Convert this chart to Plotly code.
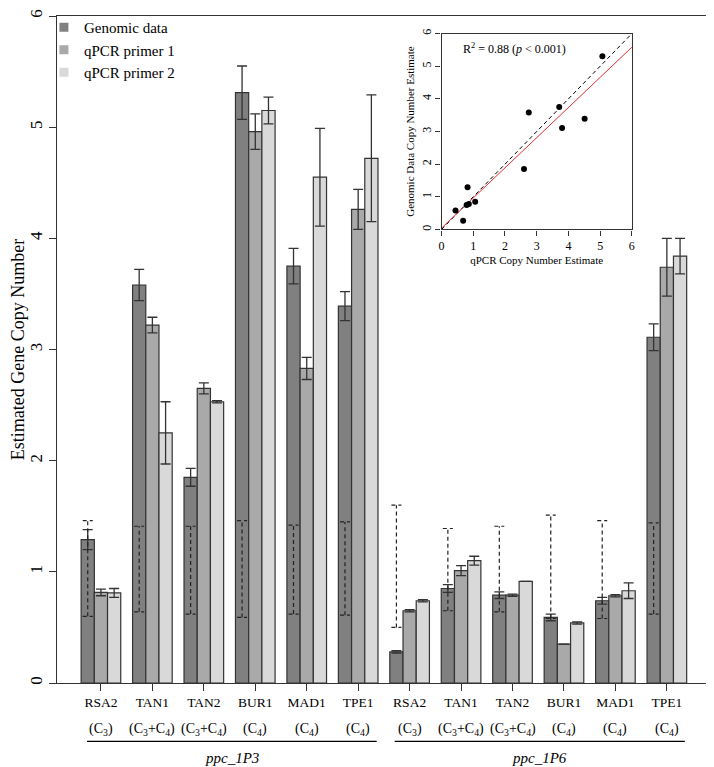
import plotly.graph_objects as go

# bar data: 6 accessions x 2 ppc loci
genes = ["RSA2", "TAN1", "TAN2", "BUR1", "MAD1", "TPE1"] * 2
ptype = ["(C<sub>3</sub>)", "(C<sub>3</sub>+C<sub>4</sub>)", "(C<sub>3</sub>+C<sub>4</sub>)",
         "(C<sub>4</sub>)", "(C<sub>4</sub>)", "(C<sub>4</sub>)"] * 2
loci = ["ppc_1P3", "ppc_1P6"]

genomic = [1.29, 3.58, 1.85, 5.31, 3.75, 3.39, 0.28, 0.85, 0.79, 0.59, 0.74, 3.11]
genomic_err = [0.09, 0.14, 0.08, 0.24, 0.16, 0.13, 0.01, 0.035, 0.03, 0.03, 0.03, 0.12]
primer1 = [0.815, 3.22, 2.65, 4.96, 2.83, 4.26, 0.65, 1.01, 0.79, 0.35, 0.785, 3.74]
primer1_err = [0.03, 0.07, 0.05, 0.16, 0.10, 0.18, 0.01, 0.045, 0.01, 0.0, 0.01, 0.26]
primer2 = [0.81, 2.25, 2.53, 5.15, 4.55, 4.72, 0.74, 1.10, 0.915, 0.54, 0.83, 3.84]
primer2_err = [0.04, 0.28, 0.01, 0.12, 0.44, 0.57, 0.01, 0.04, 0.0, 0.01, 0.07, 0.16]

# dashed interval drawn on the genomic bars
interval_lo = [0.60, 0.64, 0.62, 0.59, 0.62, 0.61, 0.50, 0.65, 0.64, 0.58, 0.58, 0.62]
interval_hi = [1.46, 1.41, 1.41, 1.46, 1.42, 1.45, 1.60, 1.39, 1.41, 1.51, 1.46, 1.44]

# inset scatter
qpcr_est = [0.82, 2.75, 2.60, 5.07, 3.71, 4.51, 0.68, 1.06, 0.86, 0.44, 0.79, 3.80]
genomic_est = [1.29, 3.58, 1.85, 5.31, 3.75, 3.39, 0.27, 0.85, 0.78, 0.58, 0.75, 3.11]
fit_intercept = 0.04
fit_slope = 0.924

FONT = "Liberation Serif"
INK = "#333333"
colors = ["#808080", "#a9a9a9", "#d9d9d9"]
names = ["Genomic data", "qPCR primer 1", "qPCR primer 2"]

x = list(range(len(genes)))
bargap = 0.23
bw = (1 - bargap) / 3

fig = go.Figure()
for vals, errs, col, nm in zip([genomic, primer1, primer2],
                               [genomic_err, primer1_err, primer2_err], colors, names):
    fig.add_trace(go.Bar(
        x=x, y=vals, name=nm, showlegend=False,
        marker=dict(color=col, line=dict(color=INK, width=1.2)),
        error_y=dict(type="data", array=errs, visible=True, color=INK,
                     thickness=1.3, width=5),
    ))
    # small square legend keys like the original
    fig.add_trace(go.Scatter(x=[None], y=[None], mode="markers", name=nm,
                             marker=dict(symbol="square", size=9, color=col)))

# dashed brackets (vertical + caps) centred on genomic bars
cap = 0.097
dx, dy = [], []
for i, lo, hi in zip(x, interval_lo, interval_hi):
    c = i - bw
    dx += [c, c, None, c - cap, c + cap, None, c - cap, c + cap, None]
    dy += [lo, hi, None, hi, hi, None, lo, lo, None]
fig.add_trace(go.Scatter(x=dx, y=dy, mode="lines", showlegend=False, hoverinfo="skip",
                         line=dict(color="#222222", width=1.2, dash="4px,3px")))

# inset
fig.add_trace(go.Scatter(x=[0, 6], y=[0, 6], mode="lines", xaxis="x2", yaxis="y2",
                         showlegend=False, line=dict(color="black", width=1, dash="4px,3px")))
fig.add_trace(go.Scatter(x=[0, 6], y=[fit_intercept, fit_intercept + 6 * fit_slope],
                         mode="lines", xaxis="x2", yaxis="y2", showlegend=False,
                         line=dict(color="#e03030", width=1)))
fig.add_trace(go.Scatter(x=qpcr_est, y=genomic_est, mode="markers", xaxis="x2", yaxis="y2",
                         showlegend=False, marker=dict(color="black", size=6)))

# x labels: photosynthetic type row, locus lines and names
for i, t in zip(x, ptype):
    fig.add_annotation(x=i, y=-0.0701, xref="x", yref="paper", yanchor="middle", text=t,
                       showarrow=False, font=dict(family=FONT, size=14, color="black"))
spans = [(-0.27, 5.36), (5.71, 11.35)]
for (a, b), loc in zip(spans, loci):
    fig.add_shape(type="line", xref="x", yref="paper", x0=a, x1=b, y0=-0.0875, y1=-0.0875,
                  line=dict(color="black", width=1.2))
    fig.add_annotation(x=(a + b) / 2, y=-0.112, xref="x", yref="paper", yanchor="middle",
                       text="<i>%s</i>" % loc, showarrow=False,
                       font=dict(family=FONT, size=15, color="black"))

fig.add_annotation(x=0.6, y=5.55, xref="x2", yref="y2", xanchor="left", yanchor="middle",
                   text="R<sup>2</sup> = 0.88 (<i>p</i> &lt; 0.001)", showarrow=False,
                   font=dict(family=FONT, size=12, color="black"))

axis_common = dict(showline=True, linecolor=INK, linewidth=1.2, mirror=True, showgrid=False,
                   zeroline=False, ticks="outside", tickcolor=INK, automargin=False,
                   ticklabeloverflow="allow")

# page body adds an 8px offset, so the figure is drawn 8px smaller
fig.update_layout(
    width=706, height=759,
    margin=dict(l=49, r=3, t=5, b=84),
    plot_bgcolor="white", paper_bgcolor="white",
    barmode="group", bargap=bargap, bargroupgap=0,
    font=dict(family=FONT, color="black"),
    xaxis=dict(range=[-0.854, 11.858], tickvals=x, ticktext=genes, ticklen=7,
               tickfont=dict(size=13.5), **axis_common),
    yaxis=dict(range=[0, 6], tickvals=list(range(7)), ticklen=7, tickangle=-90,
               tickfont=dict(size=17),
               title=dict(text="Estimated Gene Copy Number", font=dict(size=18), standoff=5),
               **axis_common),
    xaxis2=dict(domain=[0.588, 0.879], anchor="y2", range=[0, 6], tickvals=list(range(7)),
                ticklen=5, tickfont=dict(size=12),
                title=dict(text="qPCR Copy Number Estimate", font=dict(size=11), standoff=4),
                **axis_common),
    yaxis2=dict(domain=[0.680, 0.9736], anchor="x2", range=[0, 6], tickvals=list(range(7)),
                ticklen=5, tickangle=-90, tickfont=dict(size=12),
                title=dict(text="Genomic Data Copy Number Estimate", font=dict(size=11), standoff=2),
                **axis_common),
    legend=dict(x=-0.02, y=1.0075, xanchor="left", yanchor="top", bgcolor="rgba(0,0,0,0)",
                font=dict(size=15), itemwidth=30, tracegroupgap=0),
    showlegend=True,
)

fig.write_html("out.html")
